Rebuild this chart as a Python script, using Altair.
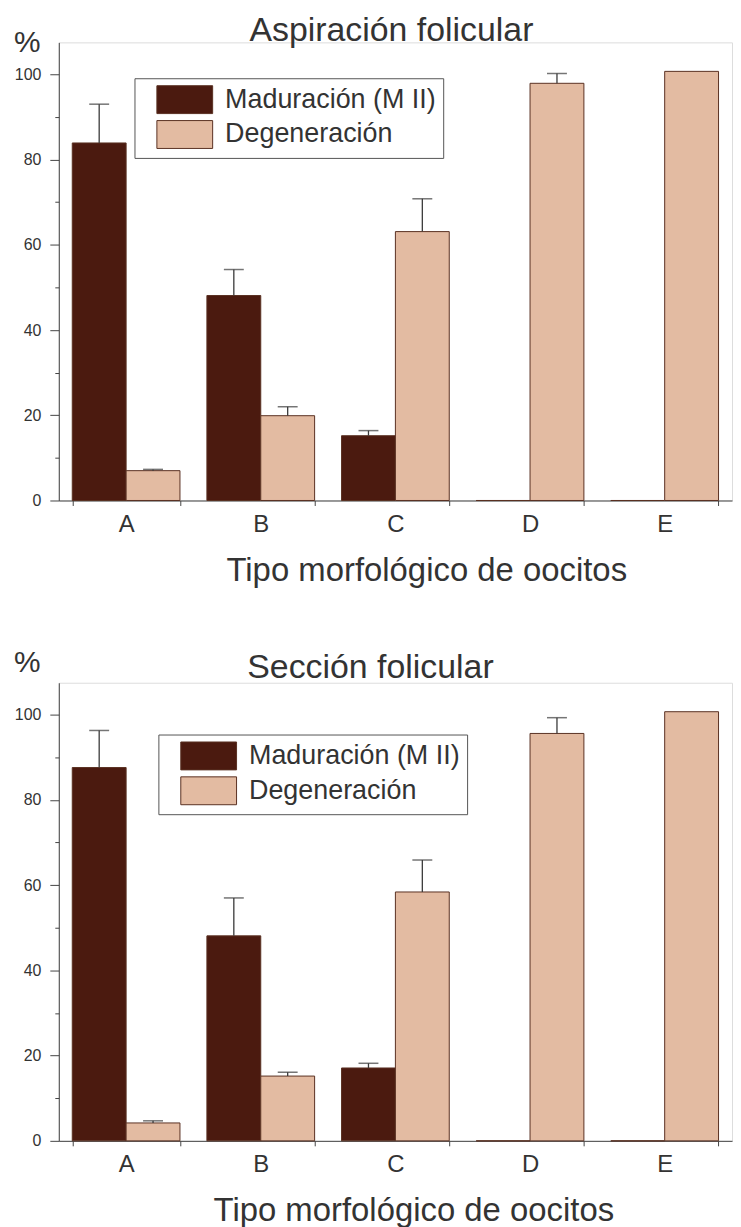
import altair as alt
import pandas as pd

# ---------------- data ----------------
categorias = ["A", "B", "C", "D", "E"]
series = ["Maduración (M II)", "Degeneración"]

# Aspiración folicular
asp_maduracion = [83.9, 48.1, 15.2, 0.0, 0.0]
asp_maduracion_sup = [93.0, 54.2, 16.4, None, None]
asp_degeneracion = [7.0, 19.9, 63.1, 97.9, 100.7]
asp_degeneracion_sup = [7.3, 22.0, 70.8, 100.2, None]

# Sección folicular
sec_maduracion = [87.6, 48.1, 17.1, 0.0, 0.0]
sec_maduracion_sup = [96.3, 57.0, 18.2, None, None]
sec_degeneracion = [4.2, 15.2, 58.4, 95.6, 100.7]
sec_degeneracion_sup = [4.7, 16.1, 65.9, 99.3, None]

y_ticks = [0, 10, 20, 30, 40, 50, 60, 70, 80, 90, 100]
unidad = ["%"]

# ---------------- styling ----------------
DARK = "#4b1a0f"
LIGHT = "#e3bba2"
EDGE = "#5a3022"
INK = "#333333"
AXIS = "#444444"
FONT = "Liberation Sans"


def tabla(mad, mad_sup, deg, deg_sup):
    rows = []
    for i, c in enumerate(categorias):
        rows.append({"tipo": c, "serie": series[0], "valor": mad[i], "sup": mad_sup[i]})
        rows.append({"tipo": c, "serie": series[1], "valor": deg[i], "sup": deg_sup[i]})
    return pd.DataFrame(rows)


def panel(df, titulo, title_dx, title_offset, pct_y, axis_title_x, axis_title_y,
          legend_x, legend_y):
    base = alt.Chart(df)
    x_enc = alt.X(
        "tipo:N",
        sort=categorias,
        scale=alt.Scale(paddingInner=0.2, paddingOuter=0.1),
        axis=alt.Axis(
            title="Tipo morfológico de oocitos",
            labelAngle=0,
            tickBand="extent",
            tickSize=5,
            tickColor=AXIS,
            domainColor=AXIS,
            labelPadding=7,
            labelFontSize=24,
            labelColor=INK,
            labelFont=FONT,
            titleFont=FONT,
            titleFontSize=33,
            titleFontWeight="normal",
            titleColor=INK,
            titleX=axis_title_x,
            titleY=axis_title_y,
            titleAlign="center",
            titleBaseline="alphabetic",
        ),
    )
    y_enc = alt.Y(
        "valor:Q",
        scale=alt.Scale(domain=[0, 107.5], nice=False, zero=True),
        axis=alt.Axis(
            values=y_ticks,
            labelExpr="datum.value % 20 === 0 ? datum.label : ''",
            tickSize={"condition": {"test": "datum.value % 20 === 0", "value": 9}, "value": 4},
            tickColor=AXIS,
            domainColor=AXIS,
            labelPadding=9,
            labelFontSize=16,
            labelColor=INK,
            labelFont=FONT,
            grid=False,
            title=None,
        ),
    )
    xo = alt.XOffset("serie:N", sort=series)
    color = alt.Color(
        "serie:N",
        sort=series,
        scale=alt.Scale(domain=series, range=[DARK, LIGHT]),
        legend=alt.Legend(
            title=None,
            orient="none",
            legendX=legend_x,
            legendY=legend_y,
            direction="vertical",
            symbolType="M-2,-1H2V1H-2Z",
            symbolSize=784,
            symbolStrokeColor=EDGE,
            symbolStrokeWidth=1,
            symbolOffset=29,
            labelOffset=26,
            labelFont=FONT,
            labelFontSize=27,
            labelColor=INK,
            labelLimit=400,
            padding=7,
            rowPadding=2,
            strokeColor="#555555",
            fillColor="white",
        ),
    )
    bars = base.mark_bar(stroke=EDGE, strokeWidth=1).encode(
        x=x_enc, xOffset=xo, y=y_enc, color=color
    )
    whisker = base.transform_filter("isValid(datum.sup)").mark_rule(
        color="#3a3a3a", strokeWidth=1.3
    ).encode(
        x=alt.X("tipo:N", sort=categorias),
        xOffset=xo,
        y=alt.Y("valor:Q"),
        y2="sup:Q",
    )
    cap = base.transform_filter("isValid(datum.sup)").mark_tick(
        color="#3a3a3a", size=20, thickness=1.5, orient="horizontal"
    ).encode(
        x=alt.X("tipo:N", sort=categorias),
        xOffset=xo,
        y=alt.Y("sup:Q"),
    )
    pct = alt.Chart(pd.DataFrame({"u": unidad})).mark_text(
        align="left", baseline="alphabetic", font=FONT, fontSize=30, color=INK
    ).encode(text="u:N", x=alt.value(-45), y=alt.value(pct_y))
    return alt.layer(bars, whisker, cap, pct).properties(
        width=676,
        height=460,
        title=alt.Title(
            titulo,
            frame="group",
            anchor="middle",
            baseline="alphabetic",
            offset=title_offset,
            dx=title_dx,
            font=FONT,
            fontSize=34,
            fontWeight="normal",
            color=INK,
        ),
    )


top = panel(
    tabla(asp_maduracion, asp_maduracion_sup, asp_degeneracion, asp_degeneracion_sup),
    "Aspiración folicular", -4, -47, 10, 369, 80, 76, 36,
)
bottom = panel(
    tabla(sec_maduracion, sec_maduracion_sup, sec_degeneracion, sec_degeneracion_sup),
    "Sección folicular", -25, -64, -11, 356, 80, 100, 52,
)

chart = (
    alt.vconcat(top, bottom, spacing=59)
    .resolve_scale(color="independent")
    .resolve_legend(color="independent")
    .properties(padding={"top": 3, "left": 5, "right": 0, "bottom": 0})
    .configure_view(stroke=None)
    .configure(font=FONT)
)

chart.save("out.html", embed_options={"renderer": "svg", "actions": False})
